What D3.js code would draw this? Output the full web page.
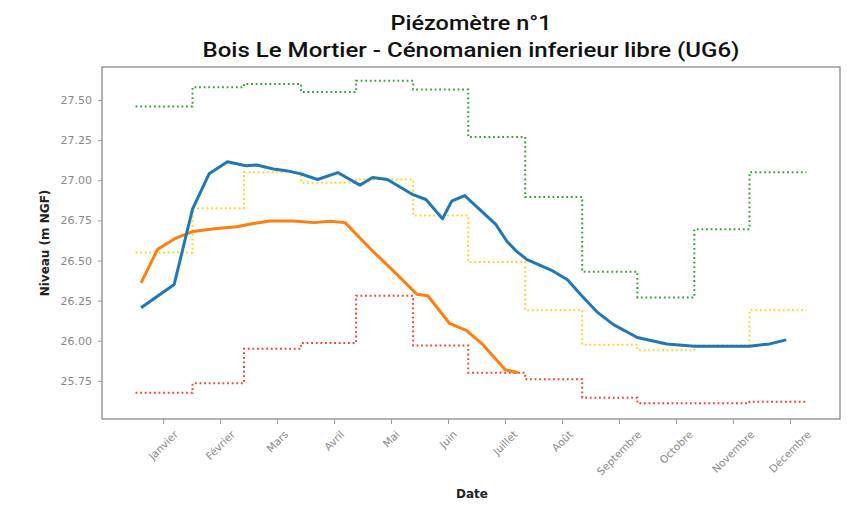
<!DOCTYPE html>
<html>
<head>
<meta charset="utf-8">
<script src="https://cdn.jsdelivr.net/npm/d3@7"></script>
<style>
  body { margin: 0; background: #fff; }
  svg text { font-family: "DejaVu Sans", sans-serif; }
</style>
</head>
<body>
<div id="chart"></div>
<script>
// tick labels (one every 31 days, as in the original)
var monthLabels = ["Janvier", "Février", "Mars", "Avril", "Mai", "Juin", "Juillet",
                   "Août", "Septembre", "Octobre", "Novembre", "Décembre"];

// monthly statistics (m NGF), one value per month
var maxMonthly  = [27.46, 27.58, 27.60, 27.55, 27.62, 27.565, 27.27, 26.895, 26.43, 26.27, 26.695, 27.05];
var meanMonthly = [26.55, 26.825, 27.05, 26.985, 27.005, 26.78, 26.49, 26.19, 25.975, 25.94, 25.97, 26.19];
var minMonthly  = [25.675, 25.735, 25.95, 25.985, 26.28, 25.97, 25.80, 25.76, 25.645, 25.61, 25.61, 25.62];

// measured series: day of year / level
var blueDays = [3, 21, 31, 40, 50, 60, 66, 75, 82, 90, 99, 110, 122, 129, 137, 151, 158, 167, 172, 179,
                187, 196, 202, 207, 213, 227, 235, 242, 251, 260, 273, 289, 304, 334, 345, 354];
var blueLevels = [26.205, 26.35, 26.82, 27.04, 27.115, 27.09, 27.095, 27.07, 27.06, 27.04, 27.005, 27.048,
                  26.97, 27.017, 27.005, 26.91, 26.88, 26.76, 26.87, 26.905, 26.82, 26.725, 26.62, 26.56,
                  26.505, 26.435, 26.38, 26.29, 26.18, 26.10, 26.02, 25.98, 25.965, 25.965, 25.98, 26.005];

var orangeDays = [3, 12, 22, 31, 44, 55, 64, 73, 86, 97, 106, 114, 128, 138, 153, 159, 171, 180, 189, 201, 208];
var orangeLevels = [26.36, 26.57, 26.64, 26.68, 26.70, 26.71, 26.73, 26.746, 26.746, 26.736, 26.744, 26.736,
                    26.57, 26.46, 26.29, 26.28, 26.106, 26.064, 25.975, 25.82, 25.80];

var yTicks = [25.75, 26.00, 26.25, 26.50, 26.75, 27.00, 27.25, 27.50];

var W = 854, H = 508;
var margin = {top: 67, right: 14, bottom: 89, left: 102};
var year = 2021;
var day0 = new Date(year, 0, 1);
function dayDate(d) { return d3.timeDay.offset(day0, d); }

var svg = d3.select("#chart").append("svg")
    .attr("width", W)
    .attr("height", H);

var x = d3.scaleTime()
    .domain([new Date(day0.getTime() - 18.25 * 864e5), new Date(new Date(year + 1, 0, 1).getTime() + 18.25 * 864e5)])
    .range([margin.left, W - margin.right]);

var y = d3.scaleLinear()
    .domain([25.512, 27.706])
    .range([H - margin.bottom, margin.top]);

// frame
svg.append("rect")
    .attr("x", margin.left).attr("y", margin.top)
    .attr("width", W - margin.right - margin.left)
    .attr("height", H - margin.bottom - margin.top)
    .attr("fill", "none")
    .attr("stroke", "#808080")
    .attr("stroke-width", 1.2);

// y axis
var yAxis = svg.append("g")
    .attr("transform", "translate(" + margin.left + ",0)")
    .call(d3.axisLeft(y).tickValues(yTicks).tickFormat(d3.format(".2f")).tickSize(4).tickPadding(6));
yAxis.select(".domain").remove();
yAxis.selectAll("line").attr("stroke", "#999");
yAxis.selectAll("text").attr("fill", "#888").style("font-size", "11px");

// x axis - ticks every 31 days starting mid-january
var tickDates = monthLabels.map(function(m, i) { return dayDate(15 + 31 * i); });
var xAxis = svg.append("g")
    .attr("transform", "translate(0," + (H - margin.bottom) + ")")
    .call(d3.axisBottom(x).tickValues(tickDates).tickFormat("").tickSize(5));
xAxis.select(".domain").remove();
xAxis.selectAll("line").attr("stroke", "#999");

// rotated labels, centred under their tick like matplotlib's rotation=45
svg.append("g").selectAll("text")
    .data(monthLabels)
    .enter().append("text")
    .text(function(d) { return d; })
    .attr("fill", "#888")
    .style("font-size", "10.5px")
    .attr("text-anchor", "middle")
    .attr("dominant-baseline", "central")
    .attr("transform", function(d, i) {
        var L = this.getComputedTextLength();
        var box = (L + 12) * Math.SQRT1_2;
        return "translate(" + x(tickDates[i]) + "," + (H - margin.bottom + 9 + box / 2) + ") rotate(-45)";
    });

// monthly step lines
function stepPoints(vals) {
    var pts = vals.map(function(v, i) { return [new Date(year, i, 1), v]; });
    pts.push([new Date(year + 1, 0, 1), vals[vals.length - 1]]);
    return pts;
}
var stepLine = d3.line()
    .x(function(d) { return x(d[0]); })
    .y(function(d) { return y(d[1]); })
    .curve(d3.curveStepAfter);

var steps = [
    {vals: maxMonthly, color: "#34a034"},
    {vals: meanMonthly, color: "#ffd21f"},
    {vals: minMonthly, color: "#f2402c"}
];
steps.forEach(function(s) {
    svg.append("path")
        .datum(stepPoints(s.vals))
        .attr("d", stepLine)
        .attr("fill", "none")
        .attr("stroke", s.color)
        .attr("stroke-width", 2)
        .attr("stroke-dasharray", "1.8,2.8");
});

// measured series
var line = d3.line()
    .x(function(d) { return x(dayDate(d[0])); })
    .y(function(d) { return y(d[1]); });

svg.append("path")
    .datum(d3.zip(orangeDays, orangeLevels))
    .attr("d", line)
    .attr("fill", "none")
    .attr("stroke", "#ff7f0e")
    .attr("stroke-width", 3)
    .attr("stroke-linejoin", "round");

svg.append("path")
    .datum(d3.zip(blueDays, blueLevels))
    .attr("d", line)
    .attr("fill", "none")
    .attr("stroke", "#1f77b4")
    .attr("stroke-width", 3)
    .attr("stroke-linejoin", "round");

// titles (the original is slightly stretched horizontally)
var cx = (margin.left + W - margin.right) / 2;
var titles = ["Piézomètre n°1", "Bois Le Mortier - Cénomanien inferieur libre (UG6)"];
var titleWidths = [161, 537];
svg.selectAll(".title")
    .data(titles)
    .enter().append("text")
    .attr("class", "title")
    .attr("x", cx)
    .attr("y", function(d, i) { return 30 + i * 27; })
    .attr("text-anchor", "middle")
    .attr("textLength", function(d, i) { return titleWidths[i]; })
    .attr("lengthAdjust", "spacingAndGlyphs")
    .style("font-family", "Roboto, sans-serif")
    .style("font-weight", 500)
    .style("font-size", "20.5px")
    .attr("fill", "#111")
    .text(function(d) { return d; });

// axis labels
svg.append("text")
    .attr("x", 472).attr("y", 498)
    .attr("text-anchor", "middle")
    .style("font-weight", "bold")
    .style("font-size", "12px")
    .attr("fill", "#222")
    .text("Date");
svg.append("text")
    .attr("transform", "translate(49," + ((margin.top + H - margin.bottom) / 2) + ") rotate(-90)")
    .attr("text-anchor", "middle")
    .style("font-weight", "bold")
    .style("font-size", "12px")
    .attr("fill", "#222")
    .text("Niveau (m NGF)");
</script>
</body>
</html>
